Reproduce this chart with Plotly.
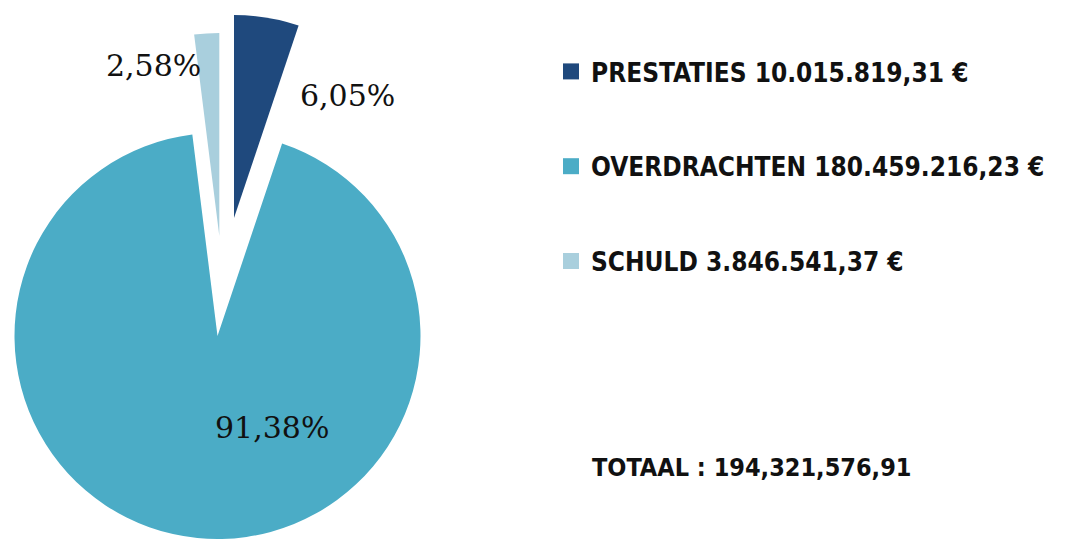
import plotly.graph_objects as go

# ---------------- data ----------------
categories = ["PRESTATIES", "OVERDRACHTEN", "SCHULD"]
amounts = [10015819.31, 180459216.23, 3846541.37]
pct_shown = [6.05, 91.38, 2.58]          # percentages printed on the chart
colors = ["#1F497D", "#4BACC6", "#A9CFDD"]
total_label = "TOTAAL"

# page body has an 8px margin; figure is sized/positioned to compensate
OFF = 8
W, H = 1069 - OFF, 539 - OFF
R = 203  # pie radius in px


def nl_money(v):
    s = f"{v:,.2f}"
    return s.replace(",", "X").replace(".", ",").replace("X", ".")


def pct_txt(p):
    return f"{p:.2f}".replace(".", ",") + "%"


def px(x, y):
    """screen px -> paper coords"""
    return (x - OFF) / W, 1 - (y - OFF) / H


total = sum(amounts)
total_txt = f"{total:,.2f}".replace(".", ",")

# apex (screen pixel) of each drawn slice: big slice at centre, small ones exploded
apex_px = [(234, 218), (217.5, 336), (219.3, 236)]

fig = go.Figure()
for i in range(len(categories)):
    cx, cy = apex_px[i]
    cx -= OFF
    cy_b = H - (cy - OFF)
    slice_colors = [colors[j] if j == i else "rgba(0,0,0,0)" for j in range(len(categories))]
    fig.add_trace(go.Pie(
        labels=categories,
        values=amounts,
        sort=False,
        direction="clockwise",
        rotation=0,
        marker=dict(colors=slice_colors, line=dict(width=0)),
        textinfo="none",
        hoverinfo="label+value",
        showlegend=False,
        domain=dict(x=[max(0, (cx - R) / W), (cx + R) / W],
                    y=[max(0, (cy_b - R) / H), min(1, (cy_b + R) / H)]),
    ))

# legend entries
for i, cat in enumerate(categories):
    fig.add_trace(go.Scatter(
        x=[None], y=[None], mode="markers",
        marker=dict(symbol="square", size=16, color=colors[i]),
        name=f"{cat} {nl_money(amounts[i])} €",
        legendgroup=str(i),
        showlegend=True,
    ))

# percentage labels (screen px)
label_pos = [(347.5, 96), (271.5, 427.5), (153.5, 65)]
annotations = []
for i in range(len(categories)):
    x, y = px(*label_pos[i])
    annotations.append(dict(
        x=x, y=y, xref="paper", yref="paper",
        text=pct_txt(pct_shown[i]), showarrow=False,
        xanchor="center", yanchor="middle",
        font=dict(family="DejaVu Serif", size=30, color="#111111"),
    ))

tx, ty = px(590, 467)
annotations.append(dict(
    x=tx, y=ty, xref="paper", yref="paper",
    text=f"{total_label} : {total_txt}", showarrow=False,
    xanchor="left", yanchor="middle",
    font=dict(family="DejaVu Sans Condensed, DejaVu Sans", size=25, color="#111111", weight="bold"),
))

lx, ly = px(551, 48)
fig.update_layout(
    width=W, height=H,
    margin=dict(l=0, r=0, t=0, b=0),
    paper_bgcolor="white", plot_bgcolor="white",
    xaxis=dict(visible=False), yaxis=dict(visible=False),
    showlegend=True,
    legend=dict(
        x=lx, y=ly, xanchor="left", yanchor="top",
        font=dict(family="DejaVu Sans Condensed, DejaVu Sans", size=26, color="#111111", weight="bold"),
        tracegroupgap=58,
        bgcolor="rgba(0,0,0,0)",
    ),
    annotations=annotations,
)

fig.write_html("out.html")
